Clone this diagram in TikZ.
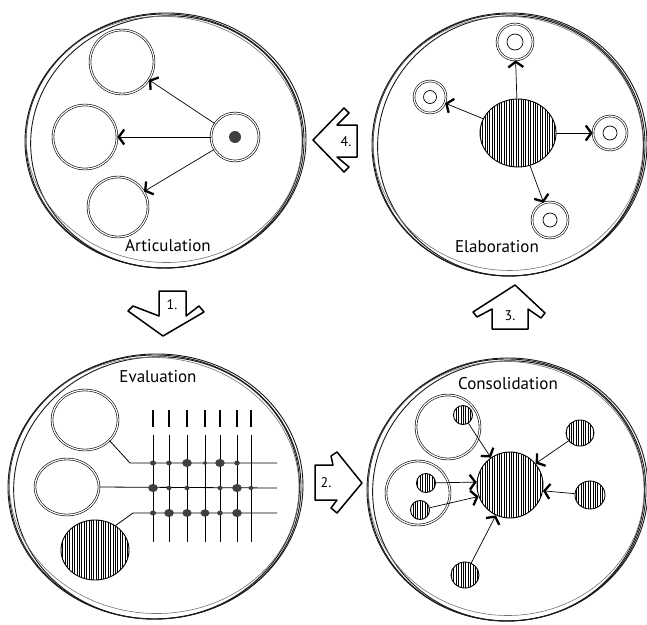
\documentclass[tikz,border=0pt]{standalone}
\usepackage{fontspec}
\setmainfont{PT Sans}
\usetikzlibrary{arrows.meta,patterns.meta,shapes.geometric,calc}
\tikzset{
  sk/.style={line width=0.9pt, draw=black!90},
  skl/.style={line width=0.6pt, draw=black!55},
  dc/.style={circle, draw, double, double distance=1.2pt, line width=0.6pt, inner sep=0pt},
  de/.style={ellipse, draw, double, double distance=1.2pt, line width=0.6pt, inner sep=0pt},
  hc/.style={circle, draw, line width=0.9pt, inner sep=0pt, pattern={Lines[angle=90,distance=2.4pt,line width=0.6pt]}},
  he/.style={ellipse, draw, line width=0.9pt, inner sep=0pt, pattern={Lines[angle=90,distance=2.4pt,line width=0.6pt]}},
  arr/.style={line width=0.7pt, -{Straight Barb[length=5.5pt,width=15pt,line width=2.3pt]}},
  conn/.style={line width=0.8pt},
  title/.style={font=\fontsize{17}{20}\selectfont},
  num/.style={font=\fontsize{14}{16}\selectfont},
  blockarrow/.style={line width=1.5pt, line join=round, fill=white},
  gdash/.style={line width=1.8pt},
  gridline/.style={line width=0.8pt},
  gdot/.style={fill=black!75}
}
\newcommand\skcirc[4]{%
  \draw[sk] (#1,#2) ellipse [x radius=#3, y radius=#4];
  \draw[sk, rotate around={5:(#1,#2)}] ($(#1,#2)+(1.5,1)$) ellipse [x radius=#3-3, y radius=#4-1];
  \draw[skl, rotate around={-4:(#1,#2)}] ($(#1,#2)+(-1,-1.5)$) ellipse [x radius=#3-1, y radius=#4-4];
  \draw[sk, rotate around={2:(#1,#2)}] ($(#1,#2)+(0.5,-0.5)$) ellipse [x radius=#3+1.5, y radius=#4+0.5];
}
\begin{document}
\begin{tikzpicture}[x=1pt,y=-1pt]
\useasboundingbox (0,0) rectangle (647,624);

% ---------- big sketched circles ----------
\skcirc{165}{141}{139}{127}
\skcirc{509}{145}{136}{131}
\skcirc{155}{487}{146}{132}
\skcirc{507}{490}{139}{131}

% ---------- Articulation ----------
\node[dc, minimum size=64pt] (a1) at (122,62) {};
\node[dc, minimum size=64pt] (a2) at (85,137) {};
\node[dc, minimum size=60pt] (a3) at (118,207) {};
\node[dc, minimum size=48pt] (src) at (235,137) {};
\fill[black!75] (src) circle (6);
\draw[arr] (src) -- (a1);
\draw[arr] (src) -- (a2);
\draw[arr] (src) -- (a3);
\node[title] (tA) at (168,246) {Articulation};

% ---------- Elaboration ----------
\node[he, minimum width=76pt, minimum height=68pt] (e0) at (518,133) {};
\node[dc, minimum size=36pt] (e1) at (515,42) {};
\node[dc, minimum size=32pt] (e2) at (430,97) {};
\node[dc, minimum size=34pt] (e3) at (610,133) {};
\node[dc, minimum size=36pt] (e4) at (550,220) {};
\draw[line width=0.7pt] (e1) circle (8);
\draw[line width=0.7pt] (e2) circle (6.5);
\draw[line width=0.7pt] (e3) circle (7);
\draw[line width=0.7pt] (e4) circle (7);
\draw[arr] (e0) -- (e1);
\draw[arr] (e0) -- (e2);
\draw[arr] (e0) -- (e3);
\draw[arr] (e0) -- (e4);
\node[title] (tE) at (497,247) {Elaboration};

% ---------- Evaluation ----------
\node[title] (tV) at (158,377) {Evaluation};
\node[de, minimum width=66pt, minimum height=60pt] (v1) at (85,420) {};
\node[de, minimum width=64pt, minimum height=56pt] (v2) at (67,487) {};
\node[he, minimum width=68pt, minimum height=60pt] (v3) at (95,550) {};
\coordinate (b1) at (130,463);
\coordinate (b3) at (133,513);
\coordinate (r1) at (277,463);
\coordinate (r2) at (277,488);
\coordinate (r3) at (277,513);
\draw[conn] (v1.-40) -- (b1) -- (r1);
\draw[conn] (v2.east) -- (r2);
\draw[conn] (v3.50) -- (b3) -- (r3);
\foreach \x in {153,169,187,205,220,237,251}{
  \draw[gdash] (\x,410) -- (\x,427);
  \draw[gridline] (\x,435) -- (\x,542);
}
% dots: row 1
\foreach \x/\r in {153/3,169/2.8,187/4.8,205/2,220/4.8,237/2.8}{
  \fill[gdot] (\x,463) ellipse [x radius=\r, y radius=\r*0.85];
}
% row 2
\foreach \x/\r in {153/4.8,169/2.6,187/2.6,220/2.6,237/4.8,251/2.4}{
  \fill[gdot] (\x,488) ellipse [x radius=\r, y radius=\r*0.85];
}
% row 3
\foreach \x/\r in {153/3,169/4.8,187/4.6,205/4.4,220/2.8,237/4.8}{
  \fill[gdot] (\x,513) ellipse [x radius=\r, y radius=\r*0.85];
}

% ---------- Consolidation ----------
\node[title] (tC) at (508,384) {Consolidation};
\node[dc, minimum size=64pt] (g1) at (448,427) {};
\node[dc, minimum size=64pt] (g2) at (418,493) {};
\node[hc, minimum size=66pt] (c0) at (510,485) {};
\node[hc, minimum size=19pt] (s1) at (463,415) {};
\node[hc, minimum size=19pt] (s2) at (426,483) {};
\node[hc, minimum size=19pt] (s3) at (420,510) {};
\node[he, minimum width=28pt, minimum height=26pt] (s4) at (580,433) {};
\node[he, minimum width=30pt, minimum height=28pt] (s5) at (590,495) {};
\node[he, minimum width=28pt, minimum height=26pt] (s6) at (465,575) {};
\draw[arr] (s1) -- (c0.125);
\draw[arr] (s2) -- (c0.175);
\draw[arr] (s3) -- (c0.200);
\draw[arr] (s4) -- (c0.40);
\draw[arr] (s5) -- (c0.-10);
\draw[arr] (s6) -- (c0.-115);

% ---------- block arrows ----------
\draw[blockarrow] (159,291) -- (159,316) -- (133,306) -- (128,311) -- (163,336) -- (204,312) -- (199,306) -- (186,316) -- (186,291) -- cycle;
\node[num] (n1) at (172,305) {1.};
\draw[blockarrow] (315,465) -- (333,465) -- (331,456) -- (337,452) -- (362,483) -- (337,513) -- (331,508) -- (337,500) -- (315,500) -- cycle;
\node[num] (n2) at (326,483) {2.};
\draw[blockarrow] (515,285) -- (473,312) -- (477,317) -- (492,309) -- (492,329) -- (528,329) -- (528,309) -- (541,318) -- (545,313) -- cycle;
\node[num] (n3) at (510,316) {3.};
\draw[blockarrow] (313,140) -- (344,108) -- (349,113) -- (337,125) -- (357,125) -- (357,157) -- (337,157) -- (349,167) -- (344,172) -- cycle;
\node[num] (n4) at (346,142) {4.};
\end{tikzpicture}
\end{document}
